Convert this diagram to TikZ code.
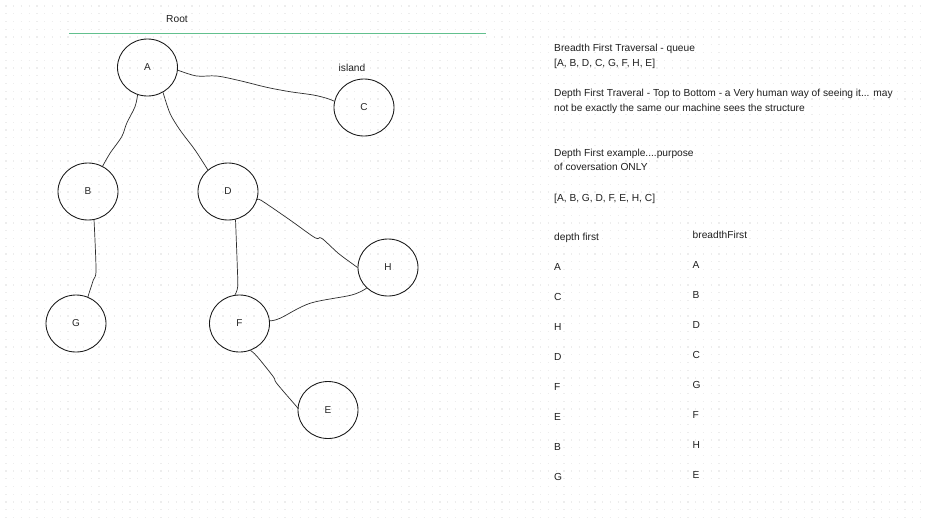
\documentclass[tikz,border=0pt]{standalone}
\usepackage{fontspec}
\setmainfont{Liberation Sans}
\usetikzlibrary{shapes.geometric}
\definecolor{gridcol}{RGB}{237,237,237}
\definecolor{rootline}{RGB}{98,192,142}
\definecolor{edgecol}{RGB}{45,45,45}
\tikzset{
  vertex/.style={draw=black!90, line width=0.85pt, ellipse, minimum width=60pt, minimum height=57pt, inner sep=0pt, font=\fontsize{10}{12}\selectfont, text=black!85},
  lbl/.style={anchor=base west, inner sep=0pt, font=\fontsize{10.2}{12}\selectfont, text=black!88},
  clbl/.style={anchor=center, inner sep=0pt, font=\fontsize{10.2}{12}\selectfont, text=black!88},
  edge/.style={draw=edgecol, line width=0.7pt, smooth, tension=0.55}
}
\begin{document}
\begin{tikzpicture}[x=1pt, y=-1pt]
\useasboundingbox (0,0) rectangle (927,520);
\fill[white] (0,0) rectangle (927,520);
% dot grid
\foreach \k in {0,...,66}{
  \draw[gridcol, line width=1.3pt, dash pattern=on 1.3pt off 6.45pt] (5.35,6+7.75*\k) -- (927,6+7.75*\k);
}
% root line
\coordinate (r1) at (69,33);
\coordinate (r2) at (486,33);
\draw[rootline, line width=1pt] (r1) -- (r2);
\node[clbl] (root) at (177,19) {Root};
\node[clbl] (island) at (352,68) {island};
% vertices
\node[vertex] (A) at (147.5,67.5) {A};
\node[vertex] (C) at (364,107.5) {C};
\node[vertex] (B) at (88,191.5) {B};
\node[vertex] (D) at (228,191.5) {D};
\node[vertex] (G) at (76,323.5) {G};
\node[vertex] (F) at (239.5,323.5) {F};
\node[vertex] (H) at (388,267.5) {H};
\node[vertex] (E) at (328,410) {E};
% edges
\draw[edge] plot coordinates {(A.250) (135,106.7) (126.7,123.3) (121.7,136.7) (110,153.3) (B.60)};
\draw[edge] plot coordinates {(A.302) (170,113.3) (180,130) (195,150) (D.133)};
\draw[edge] plot coordinates {(A.355) (196.7,76) (216.7,76) (240,80.7) (266.7,87.3) (290,91.7) (313.3,95) (326.7,98.3) (C.168)};
\draw[edge] plot coordinates {(B.282) (96,270) (93.3,280) (G.66)};
\draw[edge] plot coordinates {(D.285) (237.3,266.7) (237.7,286.7) (F.99)};
\draw[edge] plot coordinates {(D.344) (261.7,200.7) (290,220) (315,237.7) (321.7,238.3) (338.3,253.3) (351.7,263.3) (H.180)};
\draw[edge] plot coordinates {(F.5) (280,318.3) (310,303.3) (351.7,295) (H.224)};
\draw[edge] plot coordinates {(F.292) (256.7,356) (273.3,376.7) (276.7,383.3) (296.7,406.7) (E.176)};
% right-hand text
\node[lbl] (t1) at (554,51) {Breadth First Traversal - queue};
\node[lbl] (t2) at (554,66.5) {[A, B, D, C, G, F, H, E]};
\node[lbl] (t3) at (554,96.8) {Depth First Traveral - Top to Bottom - a Very human way of seeing it... may};
\node[lbl] (t4) at (554,111.2) {not be exactly the same our machine sees the structure};
\node[lbl] (t5) at (554,156.2) {Depth First example....purpose};
\node[lbl] (t6) at (554,170.8) {of coversation ONLY};
\node[lbl] (t7) at (554,201.6) {[A, B, G, D, F, E, H, C]};
\node[lbl] (dh) at (554,240.2) {depth first};
\node[lbl] (bh) at (692.5,238.2) {breadthFirst};
\foreach \t [count=\i from 0] in {A,C,H,D,F,E,B,G}{
  \node[lbl] (d\i) at (554,270.3+30*\i) {\t};
}
\foreach \t [count=\i from 0] in {A,B,D,C,G,F,H,E}{
  \node[lbl] (b\i) at (692.5,268+30*\i) {\t};
}
\end{tikzpicture}
\end{document}
